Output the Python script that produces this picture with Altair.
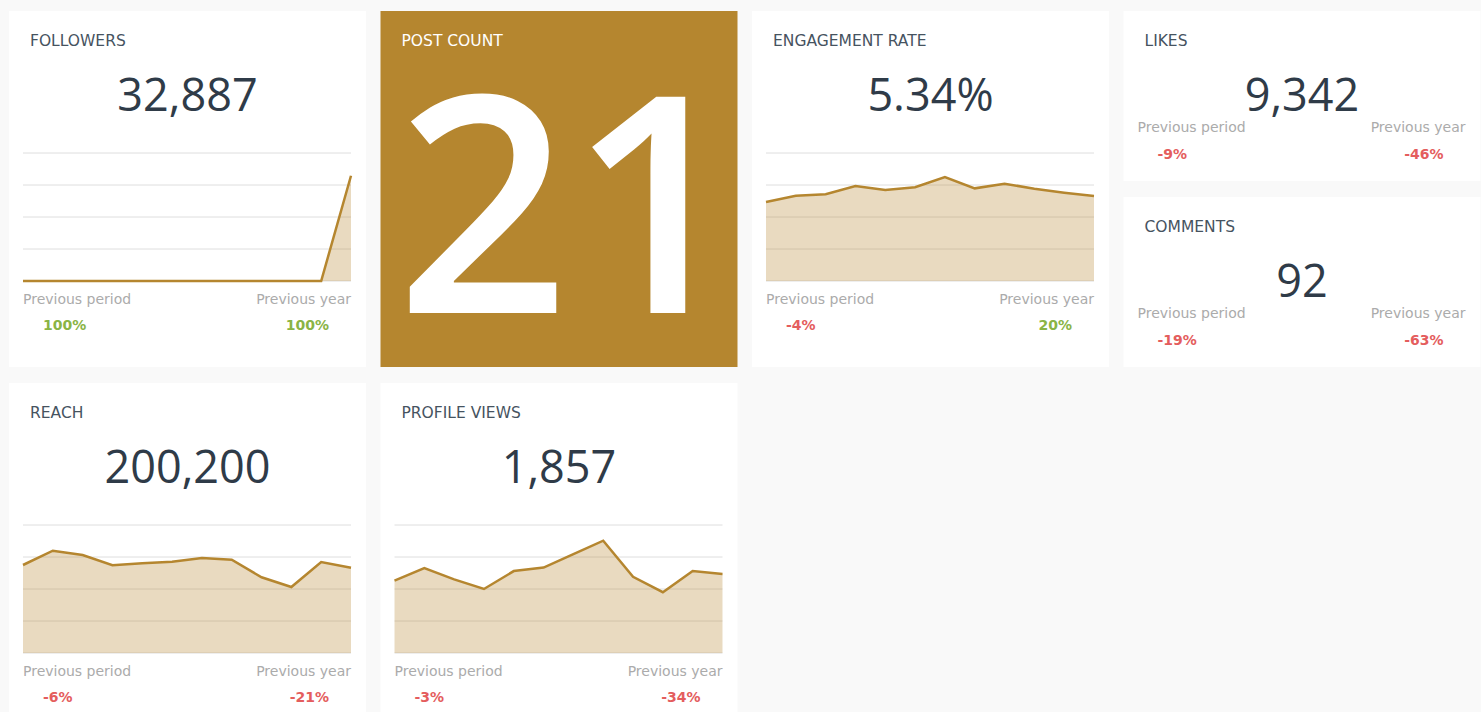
import altair as alt
import pandas as pd

# ---------------- data ----------------
months = list(range(12))

followers_series = [0, 0, 0, 0, 0, 0, 0, 0, 0, 0, 0, 32887]
engagement_series = [4.94, 5.33, 5.42, 5.94, 5.69, 5.86, 6.50, 5.79, 6.08, 5.77, 5.52, 5.31]
reach_series = [27500, 31969, 30625, 27406, 28031, 28531, 29688, 29156, 23656, 20625, 28438, 26656]
profile_series = [226, 265, 230, 200, 256, 267, 309, 351, 238, 190, 256, 247]

followers_grid = [0, 10000, 20000, 30000, 40000]
engagement_grid = [0, 2, 4, 6, 8]
reach_grid = [0, 10000, 20000, 30000, 40000]
profile_grid = [0, 100, 200, 300, 400]

titles = ["FOLLOWERS", "POST COUNT", "ENGAGEMENT RATE", "LIKES", "COMMENTS", "REACH", "PROFILE VIEWS"]
big_values = ["32,887", "21", "5.34%", "9,342", "92", "200,200", "1,857"]
prev_period = ["100%", None, "-4%", "-9%", "-19%", "-6%", "-3%"]
prev_year = ["100%", None, "20%", "-46%", "-63%", "-21%", "-34%"]

# ---------------- style ----------------
GOLD = "#b5862f"
BG = "#f9f9f9"
TITLE_C = "#46535f"
NUM_C = "#2f3b48"
LABEL_C = "#ababab"
GREEN = "#8ab445"
RED = "#e45d5d"
NUM_FONT = "Open Sans"
LBL_FONT = "DejaVu Sans"

CARD_W = 357
CARD_H = 356
SMALL_H = 170
ROW2_H = 329


def txt(text, x, y, size, color, align="left", weight="normal", baseline="middle",
        font=LBL_FONT, clip=False):
    return alt.Chart(pd.DataFrame({"t": [text]})).mark_text(
        align=align, baseline=baseline, fontSize=size, color=color,
        font=font, fontWeight=weight, clip=clip,
    ).encode(text="t:N", x=alt.value(x), y=alt.value(y))


def pct_color(s):
    return RED if s.startswith("-") else GREEN


def sparkline(series, grid, dmax):
    df = pd.DataFrame({"i": months, "v": series})
    gdf = pd.DataFrame({"g": grid})
    xs = alt.Scale(domain=[0, 11], range=[14, 342], nice=False, zero=False)
    ys = alt.Scale(domain=[0, dmax], range=[270, 142], nice=False)
    rules = alt.Chart(gdf).mark_rule(color="#dedede", strokeWidth=1).encode(
        y=alt.Y("g:Q", scale=ys, axis=None), x=alt.value(14), x2=alt.value(342))
    area = alt.Chart(df).mark_area(color=GOLD, opacity=0.3).encode(
        x=alt.X("i:Q", scale=xs, axis=None), y=alt.Y("v:Q", scale=ys, axis=None))
    line = alt.Chart(df).mark_line(color=GOLD, strokeWidth=2.5).encode(
        x=alt.X("i:Q", scale=xs, axis=None), y=alt.Y("v:Q", scale=ys, axis=None))
    return [rules, area, line]


def header(k, color=TITLE_C):
    return txt(titles[k], 21, 30, 15.5, color)


def big_card(k, series, grid, dmax, height=CARD_H):
    layers = sparkline(series, grid, dmax) + [
        header(k),
        txt(big_values[k], CARD_W / 2, 86, 45, NUM_C, align="center", font=NUM_FONT),
        txt("Previous period", 14, 289, 14, LABEL_C),
        txt("Previous year", 342, 289, 14, LABEL_C, align="right"),
        txt(prev_period[k], 34, 315, 14, pct_color(prev_period[k]), weight="bold"),
        txt(prev_year[k], 320, 315, 14, pct_color(prev_year[k]), align="right", weight="bold"),
    ]
    return alt.layer(*layers).properties(
        width=CARD_W, height=height,
        view=alt.ViewBackground(fill="white", strokeWidth=0))


def small_card(k):
    layers = [
        header(k),
        txt(big_values[k], CARD_W / 2, 86, 45, NUM_C, align="center", font=NUM_FONT),
        txt("Previous period", 14, 117, 14, LABEL_C),
        txt("Previous year", 342, 117, 14, LABEL_C, align="right"),
        txt(prev_period[k], 34, 144, 14, pct_color(prev_period[k]), weight="bold"),
        txt(prev_year[k], 320, 144, 14, pct_color(prev_year[k]), align="right", weight="bold"),
    ]
    return alt.layer(*layers).properties(
        width=CARD_W, height=SMALL_H,
        view=alt.ViewBackground(fill="white", strokeWidth=0))


post_card = alt.layer(
    header(1, "white"),
    txt(big_values[1], 189, 302, 303, "white", align="center", baseline="alphabetic",
        font=NUM_FONT, weight=600, clip=True),
).properties(width=CARD_W, height=CARD_H,
             view=alt.ViewBackground(fill=GOLD, strokeWidth=0))

followers = big_card(0, followers_series, followers_grid, 40000)
engagement = big_card(2, engagement_series, engagement_grid, 8)
likes = small_card(3)
comments = small_card(4)
reach = big_card(5, reach_series, reach_grid, 40000, ROW2_H)
profile = big_card(6, profile_series, profile_grid, 400, ROW2_H)

row1 = alt.hconcat(followers, post_card, engagement,
                   alt.vconcat(likes, comments, spacing=16),
                   spacing=14.5)
row2 = alt.hconcat(reach, profile, spacing=14.5)

chart = alt.vconcat(row1, row2, spacing=16).properties(
    padding={"left": 9, "top": 11, "right": 0, "bottom": 0},
    background=BG,
).configure_view(strokeWidth=0)

chart.save("out.html", embed_options={"renderer": "svg", "actions": False})
